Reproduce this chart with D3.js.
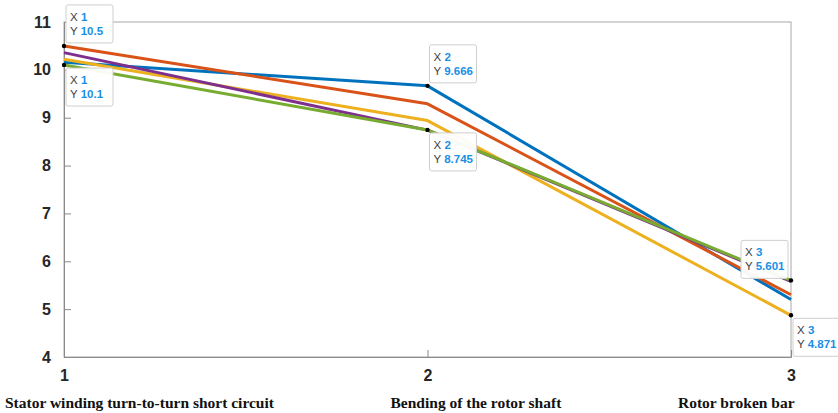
<!DOCTYPE html>
<html><head><meta charset="utf-8">
<script src="https://cdn.jsdelivr.net/npm/d3@7"></script>
<style>body{margin:0;background:#fff}svg{display:block}</style>
</head><body><svg id="c" width="838" height="413"></svg>
<script>
const xValues = [1, 2, 3];
const categories = ["Stator winding turn-to-turn short circuit", "Bending of the rotor shaft", "Rotor broken bar"];
const yTicks = [4, 5, 6, 7, 8, 9, 10, 11];
const seriesBlue   = [10.16, 9.666, 5.2];
const seriesOrange = [10.5, 9.29, 5.3];
const seriesYellow = [10.22, 8.94, 4.871];
const seriesPurple = [10.36, 8.74, 5.58];
const seriesGreen  = [10.1, 8.745, 5.601];
const series = [
  {name: "blue", values: seriesBlue, color: "#0072BD"},
  {name: "orange", values: seriesOrange, color: "#D95319"},
  {name: "yellow", values: seriesYellow, color: "#EDB120"},
  {name: "purple", values: seriesPurple, color: "#7E2F8E"},
  {name: "green", values: seriesGreen, color: "#77AC30"}
];
// datatips: series name, point index, placement
const tips = [
  {s: "orange", i: 0, pos: "ur"},
  {s: "green", i: 0, pos: "dr"},
  {s: "blue", i: 1, pos: "ur"},
  {s: "green", i: 1, pos: "dr"},
  {s: "green", i: 2, pos: "ul"},
  {s: "yellow", i: 2, pos: "dr"}
];

const svg = d3.select("#c");
const L = 64, R = 791, T = 22, B = 357;
const x = d3.scaleLinear().domain([1, 3]).range([L, R]);
const y = d3.scaleLinear().domain([4, 11]).range([B, T]);
const axisCol = "#8a8a8a";

// box
svg.append("rect").attr("x", L).attr("y", T).attr("width", R - L).attr("height", B - T)
  .attr("fill", "none").attr("stroke", "#a8a8a8").attr("stroke-width", 1);

// y axis
const yAxis = d3.axisLeft(y).tickValues(yTicks).tickSize(-7).tickPadding(13).tickFormat(d3.format("d"));
const gy = svg.append("g").attr("transform", `translate(${L},0)`).call(yAxis);
gy.select(".domain").attr("stroke", axisCol);
gy.selectAll(".tick line").attr("stroke", axisCol);
gy.selectAll(".tick text").attr("font-family", "Liberation Sans, Arial, sans-serif")
  .attr("font-size", 16).attr("font-weight", "bold").attr("fill", "#262626");

// x axis
const xAxis = d3.axisBottom(x).tickValues(xValues).tickSize(-7).tickPadding(13).tickFormat(d3.format("d"));
const gx = svg.append("g").attr("transform", `translate(0,${B})`).call(xAxis);
gx.select(".domain").attr("stroke", axisCol);
gx.selectAll(".tick line").attr("stroke", axisCol);
gx.selectAll(".tick text").attr("font-family", "Liberation Sans, Arial, sans-serif")
  .attr("font-size", 16).attr("font-weight", "bold").attr("fill", "#262626");

// category labels
const catOffsets = [-59, -37, -113];
svg.append("g").selectAll("text").data(categories).join("text")
  .attr("x", (d, i) => x(xValues[i]) + catOffsets[i])
  .attr("y", 408)
  .attr("font-family", "Liberation Serif, Times New Roman, serif")
  .attr("font-size", 15.5).attr("font-weight", "bold").attr("fill", "#111")
  .text(d => d);

// lines
const line = d3.line().x((d, i) => x(xValues[i])).y(d => y(d));
svg.append("g").selectAll("path").data(series).join("path")
  .attr("d", d => line(d.values))
  .attr("fill", "none").attr("stroke", d => d.color).attr("stroke-width", 3)
  .attr("stroke-linejoin", "round");

// datatips
const byName = Object.fromEntries(series.map(s => [s.name, s]));
const tg = svg.append("g");
tips.forEach(t => {
  const v = byName[t.s].values[t.i];
  const px = x(xValues[t.i]), py = y(v);
  const w = 47, h = 38;
  let bx, by;
  if (t.pos === "ur") { bx = px + 2; by = py - 3 - h; }
  else if (t.pos === "dr") { bx = px + 2; by = py + 3; }
  else { bx = px - 3 - w; by = py - 2 - h; }
  const g = tg.append("g");
  g.append("rect").attr("x", bx).attr("y", by).attr("width", w).attr("height", h)
    .attr("rx", 2).attr("fill", "#fff").attr("fill-opacity", 0.95)
    .attr("stroke", "#cfcfcf").attr("stroke-width", 1);
  const rows = [["X", String(xValues[t.i])], ["Y", String(v)]];
  rows.forEach((r, k) => {
    const tx = g.append("text").attr("x", bx + 4).attr("y", by + 16 + k * 14)
      .attr("font-family", "Liberation Sans, Arial, sans-serif").attr("font-size", 11.5);
    tx.append("tspan").attr("fill", "#404040").text(r[0] + " ");
    tx.append("tspan").attr("fill", "#1a8fe6").attr("font-weight", "bold").text(r[1]);
  });
  tg.append("circle").attr("cx", px).attr("cy", py).attr("r", 2.2).attr("fill", "#000");
});
</script></body></html>
